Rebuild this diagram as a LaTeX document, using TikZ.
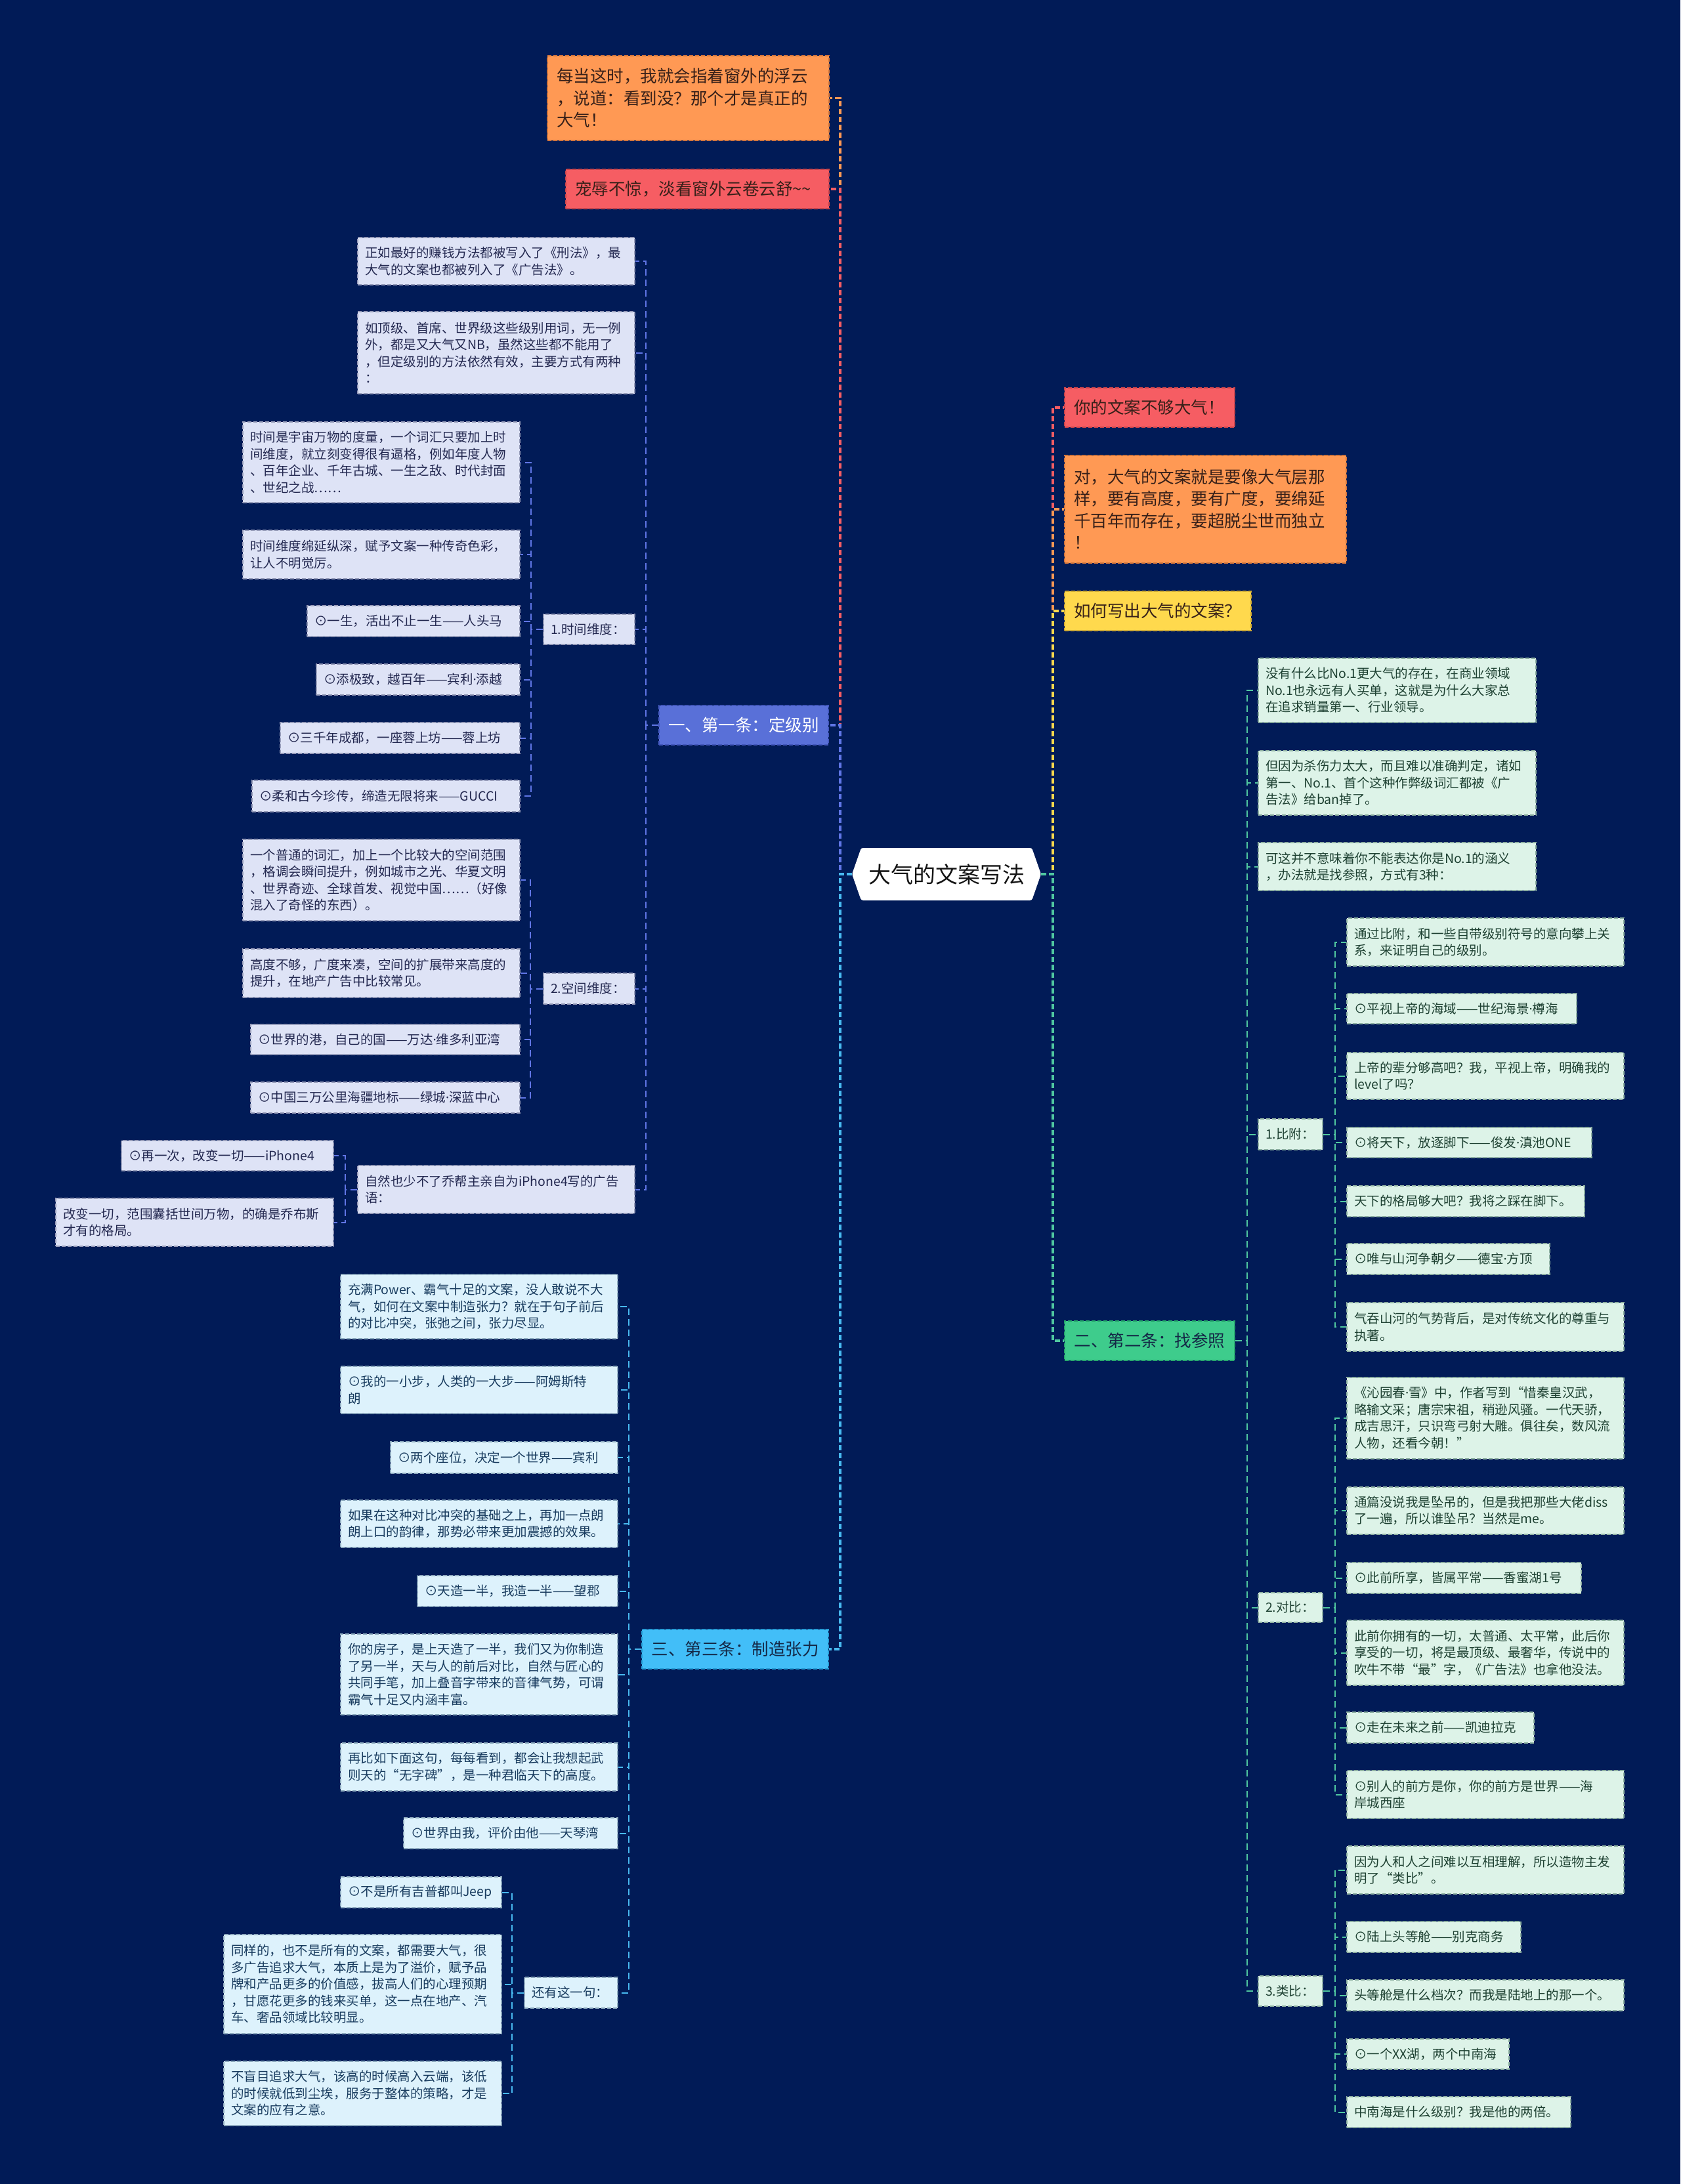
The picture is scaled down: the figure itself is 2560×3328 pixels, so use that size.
\documentclass[tikz,border=0pt]{standalone}
\usepackage{fontspec}
\setmainfont{Noto Sans CJK SC}
\newfontfamily\dotf{Noto Sans}
\newcommand\md{{\dotf ·}}
\newcommand\fLeaf{\fontsize{19.5}{25.5}\selectfont}
\newcommand\fMain{\fontsize{25.5}{33.5}\selectfont}
\newcommand\fHead{\fontsize{25.5}{30}\selectfont}
\newcommand\fCenter{\fontsize{34}{40}\selectfont}
\definecolor{bg}{RGB}{1,27,87}
\definecolor{cOr}{RGB}{255,153,84}
\definecolor{cRd}{RGB}{246,93,99}
\definecolor{cYe}{RGB}{255,217,77}
\definecolor{cBl}{RGB}{89,112,216}
\definecolor{cCy}{RGB}{66,190,248}
\definecolor{cGr}{RGB}{62,204,140}
\definecolor{bOr}{RGB}{210,118,60}
\definecolor{bRd}{RGB}{200,68,74}
\definecolor{bYe}{RGB}{210,172,50}
\definecolor{bBl}{RGB}{68,88,190}
\definecolor{bCy}{RGB}{38,158,215}
\definecolor{bGr}{RGB}{38,168,108}
\definecolor{lnBl}{RGB}{96,118,230}
\definecolor{lnCy}{RGB}{72,186,240}
\definecolor{lnGr}{RGB}{80,200,160}
\definecolor{fA}{RGB}{222,227,246}
\definecolor{fC}{RGB}{221,242,252}
\definecolor{fG}{RGB}{221,243,232}
\definecolor{tA}{RGB}{35,40,80}
\definecolor{tC}{RGB}{25,60,95}
\definecolor{tG}{RGB}{30,65,50}
\definecolor{bdA}{RGB}{150,156,185}
\definecolor{bdC}{RGB}{140,170,190}
\definecolor{bdG}{RGB}{140,175,160}
\definecolor{tM}{RGB}{55,32,25}
\definecolor{tH}{RGB}{20,40,70}
\definecolor{tX}{RGB}{20,20,20}
\tikzset{
  nbox/.style={rectangle, inner sep=0pt, align=left, line width=1.5pt, dash pattern=on 6pt off 3pt},
  lfA/.style={nbox, fill=fA, draw=bdA, text=tA, font=\fLeaf},
  lfC/.style={nbox, fill=fC, draw=bdC, text=tC, font=\fLeaf},
  lfG/.style={nbox, fill=fG, draw=bdG, text=tG, font=\fLeaf},
  mOr/.style={nbox, fill=cOr, draw=bOr, text=tM, font=\fMain},
  mRd/.style={nbox, fill=cRd, draw=bRd, text=tM, font=\fMain},
  mYe/.style={nbox, fill=cYe, draw=bYe, text=tM, font=\fMain},
  hBl/.style={nbox, align=center, fill=cBl, draw=bBl, text=white, font=\fHead},
  hCy/.style={nbox, align=center, fill=cCy, draw=bCy, text=tH, font=\fHead},
  hGr/.style={nbox, align=center, fill=cGr, draw=bGr, text=tH, font=\fHead},
  trk/.style={line width=3.5pt, dash pattern=on 8pt off 4pt},
  sb/.style={line width=2pt, dash pattern=on 10pt off 6pt},
}
\newcommand{\bx}[7]{\pgfmathsetlengthmacro{\bxtw}{#5-22}\node[#1, minimum width=#5pt, minimum height=#6pt, text width=\bxtw] (#2) at (#3,#4) {#7};}
\newcommand{\mx}[7]{\pgfmathsetlengthmacro{\bxtw}{#5-28}\node[#1, minimum width=#5pt, minimum height=#6pt, text width=\bxtw] (#2) at (#3,#4) {#7};}
\begin{document}
\begin{tikzpicture}[x=1pt,y=-1pt]
\fill[bg] (0,0) rectangle (2560,3328);
\useasboundingbox (0,0) rectangle (2560,3328);
% center
\fill[white, rounded corners=3pt] (1298,1332) -- (1312,1292) -- (1572,1292) -- (1586,1332) -- (1572,1372) -- (1312,1372) -- cycle;
\node[font=\fCenter, text=tX, minimum width=288pt, minimum height=80pt, inner sep=0pt] (c) at (1442,1332) {大气的文案写法};
% main left
\mx{mOr}{M1}{1048.5}{149.5}{429}{129}{每当这时，我就会指着窗外的浮云\\，说道：看到没？那个才是真正的\\大气！}
\mx{mRd}{M2}{1062.5}{288}{401}{60}{宠辱不惊，淡看窗外云卷云舒\textasciitilde\textasciitilde}
\mx{hBl}{M3}{1133}{1105}{258}{60}{一、第一条：定级别}
\mx{hCy}{M4}{1120}{2513}{284}{60}{三、第三条：制造张力}
% main right
\mx{mRd}{R1}{1751.5}{621}{259}{60}{你的文案不够大气！}
\mx{mOr}{R2}{1836.5}{776}{429}{164}{对，大气的文案就是要像大气层那\\样，要有高度，要有广度，要绵延\\千百年而存在，要超脱尘世而独立\\！}
\mx{mYe}{R3}{1764}{931}{284}{60}{如何写出大气的文案？}
\mx{hGr}{R4}{1751.5}{2043}{259}{60}{二、第二条：找参照}
% branch 1
\bx{lfA}{L1}{756}{398}{422}{72}{正如最好的赚钱方法都被写入了《刑法》，最\\大气的文案也都被列入了《广告法》。}
\bx{lfA}{L2}{756}{537.5}{422}{125}{如顶级、首席、世界级这些级别用词，无一例\\外，都是又大气又NB，虽然这些都不能用了\\，但定级别的方法依然有效，主要方式有两种\\：}
\bx{lfA}{L3}{897.5}{959}{139}{46}{1.时间维度：}
\bx{lfA}{L4}{897.5}{1506.5}{139}{47}{2.空间维度：}
\bx{lfA}{L5}{756}{1812.5}{422}{73}{自然也少不了乔帮主亲自为iPhone4写的广告\\语：}
\bx{lfA}{T1}{581}{704.5}{422}{123}{时间是宇宙万物的度量，一个词汇只要加上时\\间维度，就立刻变得很有逼格，例如年度人物\\、百年企业、千年古城、一生之敌、时代封面\\、世纪之战……}
\bx{lfA}{T2}{581}{845}{422}{74}{时间维度绵延纵深，赋予文案一种传奇色彩，\\让人不明觉厉。}
\bx{lfA}{T3}{630}{946.5}{324}{47}{⊙一生，活出不止一生——人头马}
\bx{lfA}{T4}{637}{1035.5}{310}{47}{⊙添极致，越百年——宾利\md 添越}
\bx{lfA}{T5}{609.5}{1124.5}{365}{47}{⊙三千年成都，一座蓉上坊——蓉上坊}
\bx{lfA}{T6}{588}{1213}{408}{48}{⊙柔和古今珍传，缔造无限将来——GUCCI}
\bx{lfA}{S1}{581}{1341}{422}{124}{一个普通的词汇，加上一个比较大的空间范围\\，格调会瞬间提升，例如城市之光、华夏文明\\、世界奇迹、全球首发、视觉中国……（好像\\混入了奇怪的东西）。}
\bx{lfA}{S2}{581}{1483}{422}{74}{高度不够，广度来凑，空间的扩展带来高度的\\提升，在地产广告中比较常见。}
\bx{lfA}{S3}{587}{1584}{410}{46}{⊙世界的港，自己的国——万达\md 维多利亚湾}
\bx{lfA}{S4}{587}{1672.5}{410}{47}{⊙中国三万公里海疆地标——绿城\md 深蓝中心}
\bx{lfA}{P1}{346.5}{1761}{323}{46}{⊙再一次，改变一切——iPhone4}
\bx{lfA}{P2}{296.5}{1862.5}{423}{73}{改变一切，范围囊括世间万物，的确是乔布斯\\才有的格局。}
% branch 3
\bx{lfC}{Q1}{730}{1991}{422}{98}{充满Power、霸气十足的文案，没人敢说不大\\气，如何在文案中制造张力？就在于句子前后\\的对比冲突，张弛之间，张力尽显。}
\bx{lfC}{Q2}{730}{2118}{422}{72}{⊙我的一小步，人类的一大步——阿姆斯特\\朗}
\bx{lfC}{Q3}{768}{2221}{346}{48}{⊙两个座位，决定一个世界——宾利}
\bx{lfC}{Q4}{730}{2322}{422}{72}{如果在这种对比冲突的基础之上，再加一点朗\\朗上口的韵律，那势必带来更加震撼的效果。}
\bx{lfC}{Q5}{788.5}{2424.5}{305}{47}{⊙天造一半，我造一半——望郡}
\bx{lfC}{Q6}{730}{2551.5}{422}{123}{你的房子，是上天造了一半，我们又为你制造\\了另一半，天与人的前后对比，自然与匠心的\\共同手笔，加上叠音字带来的音律气势，可谓\\霸气十足又内涵丰富。}
\bx{lfC}{Q7}{730}{2692.5}{422}{73}{再比如下面这句，每每看到，都会让我想起武\\则天的“无字碑”，是一种君临天下的高度。}
\bx{lfC}{Q8}{778}{2793.5}{326}{47}{⊙世界由我，评价由他——天琴湾}
\bx{lfC}{Q9}{870}{3036.5}{142}{47}{还有这一句：}
\bx{lfC}{J1}{641.5}{2883.5}{245}{47}{⊙不是所有吉普都叫Jeep}
\bx{lfC}{J2}{552.5}{3023.5}{423}{151}{同样的，也不是所有的文案，都需要大气，很\\多广告追求大气，本质上是为了溢价，赋予品\\牌和产品更多的价值感，拔高人们的心理预期\\，甘愿花更多的钱来买单，这一点在地产、汽\\车、奢品领域比较明显。}
\bx{lfC}{J3}{552.5}{3190}{423}{98}{不盲目追求大气，该高的时候高入云端，该低\\的时候就低到尘埃，服务于整体的策略，才是\\文案的应有之意。}
% branch 2
\bx{lfG}{G1}{2128.5}{1052}{423}{98}{没有什么比No.1更大气的存在，在商业领域\\No.1也永远有人买单，这就是为什么大家总\\在追求销量第一、行业领导。}
\bx{lfG}{G2}{2128.5}{1193}{423}{98}{但因为杀伤力太大，而且难以准确判定，诸如\\第一、No.1、首个这种作弊级词汇都被《广\\告法》给ban掉了。}
\bx{lfG}{G3}{2128.5}{1320.5}{423}{73}{可这并不意味着你不能表达你是No.1的涵义\\，办法就是找参照，方式有3种：}
\bx{lfG}{G4}{1966}{1728.5}{98}{47}{1.比附：}
\bx{lfG}{G5}{1966}{2449.5}{98}{45}{2.对比：}
\bx{lfG}{G6}{1966}{3034}{98}{46}{3.类比：}
\bx{lfG}{B1}{2263}{1435.5}{422}{73}{通过比附，和一些自带级别符号的意向攀上关\\系，来证明自己的级别。}
\bx{lfG}{B2}{2227}{1537}{350}{46}{⊙平视上帝的海域——世纪海景\md 樽海}
\bx{lfG}{B3}{2263}{1639.5}{422}{71}{上帝的辈分够高吧？我，平视上帝，明确我的\\level了吗？}
\bx{lfG}{B4}{2238.5}{1741}{373}{46}{⊙将天下，放逐脚下——俊发\md 滇池ONE}
\bx{lfG}{B5}{2233}{1830.5}{362}{47}{天下的格局够大吧？我将之踩在脚下。}
\bx{lfG}{B6}{2206.5}{1918.5}{309}{47}{⊙唯与山河争朝夕——德宝\md 方顶}
\bx{lfG}{B7}{2263}{2022}{422}{74}{气吞山河的气势背后，是对传统文化的尊重与\\执著。}
\bx{lfG}{D1}{2263}{2161}{422}{124}{《沁园春\md 雪》中，作者写到“惜秦皇汉武，\\略输文采；唐宗宋祖，稍逊风骚。一代天骄，\\成吉思汗，只识弯弓射大雕。俱往矣，数风流\\人物，还看今朝！”}
\bx{lfG}{D2}{2263}{2302}{422}{72}{通篇没说我是坠吊的，但是我把那些大佬diss\\了一遍，所以谁坠吊？当然是me。}
\bx{lfG}{D3}{2230.5}{2404.5}{357}{47}{⊙此前所享，皆属平常——香蜜湖1号}
\bx{lfG}{D4}{2263}{2518.5}{422}{99}{此前你拥有的一切，太普通、太平常，此后你\\享受的一切，将是最顶级、最奢华，传说中的\\吹牛不带“最”字，《广告法》也拿他没法。}
\bx{lfG}{D5}{2194.5}{2632.5}{285}{47}{⊙走在未来之前——凯迪拉克}
\bx{lfG}{D6}{2263}{2734.5}{422}{73}{⊙别人的前方是你，你的前方是世界——海\\岸城西座}
\bx{lfG}{A1}{2263}{2849.5}{422}{73}{因为人和人之间难以互相理解，所以造物主发\\明了“类比”。}
\bx{lfG}{A2}{2184.5}{2951.5}{265}{47}{⊙陆上头等舱——别克商务}
\bx{lfG}{A3}{2263}{3040.5}{422}{47}{头等舱是什么档次？而我是陆地上的那一个。}
\bx{lfG}{A4}{2175.5}{3130}{247}{46}{⊙一个XX湖，两个中南海}
\bx{lfG}{A5}{2222.5}{3218.5}{341}{47}{中南海是什么级别？我是他的两倍。}
% trunk connectors
\draw[trk, cOr] (c.west) -- ++(-18,0) |- (M1.east);
\draw[trk, cRd] (c.west) -- ++(-18,0) |- (M2.east);
\draw[trk, lnBl] (c.west) -- ++(-18,0) |- (M3.east);
\draw[trk, lnCy] (c.west) -- ++(-18,0) |- (M4.east);
\draw[trk, cRd] (c.east) -- ++(18,0) |- (R1.west);
\draw[trk, cOr] (c.east) -- ++(18,0) |- (R2.west);
\draw[trk, cYe] (c.east) -- ++(18,0) |- (R3.west);
\draw[trk, lnGr] (c.east) -- ++(18,0) |- (R4.west);
% sub connectors
\foreach \n in {L1,L2,L3,L4,L5} {\draw[sb, lnBl] (M3.west) -- ++(-19,0) |- (\n.east);}
\foreach \n in {T1,T2,T3,T4,T5,T6} {\draw[sb, lnBl] (L3.west) -- ++(-18,0) |- (\n.east);}
\foreach \n in {S1,S2,S3,S4} {\draw[sb, lnBl] (L4.west) -- ++(-19,0) |- (\n.east);}
\foreach \n in {P1,P2} {\draw[sb, lnBl] (L5.west) -- ++(-18,0) |- (\n.east);}
\foreach \n in {Q1,Q2,Q3,Q4,Q5,Q6,Q7,Q8,Q9} {\draw[sb, lnCy] (M4.west) -- ++(-19,0) |- (\n.east);}
\foreach \n in {J1,J2,J3} {\draw[sb, lnCy] (Q9.west) -- ++(-18,0) |- (\n.east);}
\foreach \n in {G1,G2,G3,G4,G5,G6} {\draw[sb, lnGr] (R4.east) -- ++(18,0) |- (\n.west);}
\foreach \n in {B1,B2,B3,B4,B5,B6,B7} {\draw[sb, lnGr] (G4.east) -- ++(18,0) |- (\n.west);}
\foreach \n in {D1,D2,D3,D4,D5,D6} {\draw[sb, lnGr] (G5.east) -- ++(18,0) |- (\n.west);}
\foreach \n in {A1,A2,A3,A4,A5} {\draw[sb, lnGr] (G6.east) -- ++(18,0) |- (\n.west);}
\end{tikzpicture}
\end{document}
